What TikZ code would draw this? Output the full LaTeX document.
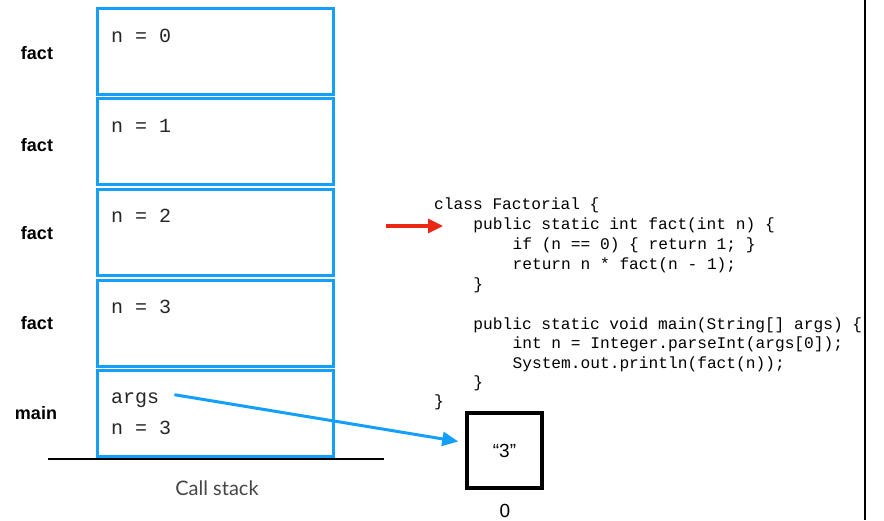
\documentclass[tikz,border=0pt]{standalone}
\usepackage{fontspec}
\setmainfont{Liberation Sans}
\newfontfamily\codefont{Liberation Mono}
\newfontfamily\labelfont{Liberation Sans}
\newfontfamily\captionfont{Lato}
\usetikzlibrary{arrows.meta,calc}
\definecolor{frameblue}{RGB}{20,160,250}
\definecolor{pointred}{RGB}{232,40,20}
\definecolor{captiongrey}{RGB}{70,70,70}
\tikzset{
  frame/.style={draw=frameblue, line width=3pt, minimum width=236pt, minimum height=86pt, inner sep=0pt},
  framelabel/.style={font=\labelfont\bfseries\fontsize{18}{20}\selectfont, inner sep=0pt},
  vartext/.style={font=\codefont\fontsize{20}{24}\selectfont, text=black!85, anchor=base west, inner sep=0pt},
  codeline/.style={font=\codefont\fontsize{16.2}{19.8}\selectfont, anchor=base west, inner sep=0pt},
  cell/.style={draw=black, line width=3.5pt, minimum width=75pt, minimum height=75pt, inner sep=0pt},
  plain/.style={font=\labelfont\fontsize{19}{22}\selectfont, inner sep=0pt},
}
\begin{document}
\begin{tikzpicture}[x=1pt, y=-1pt]
\useasboundingbox (0,0) rectangle (884,520);
\fill[white] (0,0) rectangle (884,520);

% stack frames, top of stack first
\node[frame] (f0) at (215,51.5) {};
\node[frame] (f1) at (215,141.5) {};
\node[frame] (f2) at (215,232.5) {};
\node[frame] (f3) at (215,323) {};
\node[frame] (fm) at (215,413.5) {};

% frame contents
\node[vartext] (v0) at (111,42) {n = 0};
\node[vartext] (v1) at (111,132) {n = 1};
\node[vartext] (v2) at (111,222) {n = 2};
\node[vartext] (v3) at (111,313) {n = 3};
\node[vartext] (vargs) at (111,403) {args};
\node[vartext] (vmn) at (111,434) {n = 3};

% frame names
\node[framelabel] (l0) at (37,53) {fact};
\node[framelabel] (l1) at (37,145) {fact};
\node[framelabel] (l2) at (37,233) {fact};
\node[framelabel] (l3) at (37,323) {fact};
\node[framelabel] (lm) at (36,413) {main};

% floor of the stack
\coordinate (floorL) at (48,459);
\coordinate (floorR) at (384,459);
\draw[line width=2.2pt] (floorL) -- (floorR);
\node[font=\captionfont\fontsize{20}{24}\selectfont, text=captiongrey, inner sep=0pt] (cap) at (217,488) {Call stack};

% source code
\node[codeline] (c1) at (434,209.5) {class Factorial \{};
\node[codeline] (c2) at (434,229.5) {\hspace*{39.2pt}public static int fact(int n) \{};
\node[codeline] (c3) at (434,249.5) {\hspace*{78.4pt}if (n == 0) \{ return 1; \}};
\node[codeline] (c4) at (434,269.5) {\hspace*{78.4pt}return n * fact(n - 1);};
\node[codeline] (c5) at (434,289.5) {\hspace*{39.2pt}\}};
\node[codeline] (c6) at (434,329.5) {\hspace*{39.2pt}public static void main(String[] args) \{};
\node[codeline] (c7) at (434,348.5) {\hspace*{78.4pt}int n = Integer.parseInt(args[0]);};
\node[codeline] (c8) at (434,368.5) {\hspace*{78.4pt}System.out.println(fact(n));};
\node[codeline] (c9) at (434,387.5) {\hspace*{39.2pt}\}};
\node[codeline] (c10) at (434,406.5) {\}};

% current line marker
\coordinate (mk0) at (386,226);
\coordinate (mk1) at (443,226);
\draw[pointred, line width=3.2pt, -{Triangle[length=15pt,width=14pt]}] (mk0) -- (mk1);

% array cell holding the argument
\node[cell] (arr) at (504.5,450.5) {};
\node[plain] (arrv) at (arr.center) {“3”};
\node[plain] (arri) at (505,511) {0};

% reference from args to the array
\draw[frameblue, line width=3pt, -{Triangle[length=16pt,width=14pt]}]
  ($(vargs.east)+(15,-5)$) -- ($(arr.west)+(-7,-9)$);

% right border
\coordinate (bt) at (865,0);
\coordinate (bb) at (865,520);
\draw[line width=1.5pt] (bt) -- (bb);
\end{tikzpicture}
\end{document}
